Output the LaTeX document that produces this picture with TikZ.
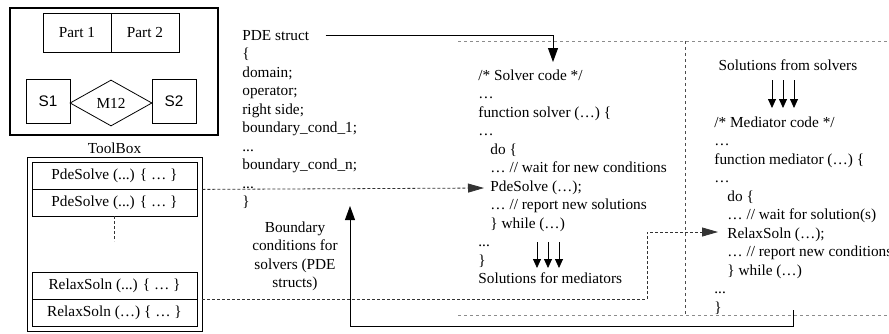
\documentclass[tikz,border=0pt]{standalone}
\usepackage{fontspec}
\setmainfont{Liberation Serif}
\setsansfont{Liberation Sans}
\usetikzlibrary{shapes.geometric, arrows.meta}

\tikzset{
    txt/.style={font=\fontsize{15.3}{18.5}\selectfont, inner sep=0pt},
    sans/.style={font=\fontsize{15.3}{18.5}\selectfont\sffamily, inner sep=0pt},
    code/.style={txt, align=left, anchor=base west},
    cell/.style={draw, txt, minimum width=165pt, minimum height=27pt},
    flow/.style={-{Triangle[length=14pt,width=10pt]}},
    link/.style={densely dashed, black!80, -{Triangle[length=16pt,width=9pt]}},
    zone/.style={dashed, black!45, line width=0.6pt},
    tri/.style={-{Triangle[length=9pt,width=8pt]}}
}

\begin{document}
\begin{tikzpicture}[x=1pt, y=-1pt, line width=0.8pt]
    \useasboundingbox (0,0) rectangle (889,333);

    % parts and subdomains
    \node[draw, line width=2pt, minimum width=208pt, minimum height=127pt] (frame) at (114,71.5) {};
    \node[draw, txt, minimum width=68pt, minimum height=39pt] (part1) at (77,32.5) {Part 1};
    \node[draw, txt, minimum width=68pt, minimum height=39pt] (part2) at (145,32.5) {Part 2};
    \node[draw, sans, minimum size=44pt] (s1) at (48,101) {S1};
    \node[draw, sans, minimum size=44pt] (s2) at (174,101) {S2};
    \node[draw, diamond, txt, minimum width=82pt, minimum height=46pt] (m12) at (111,103) {M12};

    % toolbox
    \node[txt] (tblabel) at (114.5,148) {ToolBox};
    \node[draw, minimum width=175pt, minimum height=174pt] (tbox) at (114.5,244.5) {};
    \node[cell] (pde1) at (114.5,175.5) {PdeSolve (...) \{ … \}};
    \node[cell] (pde2) at (114.5,202.5) {PdeSolve (...) \{ … \}};
    \node[cell] (relax1) at (114.5,285.5) {RelaxSoln (...) \{ … \}};
    \node[cell] (relax2) at (114.5,312.5) {RelaxSoln (…) \{ … \}};
    \draw[densely dashed, black!80] (pde2.south) -- ++(0,25);

    % PDE struct (multi-line nodes sit on their last baseline)
    \node[code] (structhead) at (242,40) {PDE struct};
    \node[code] (structbody) at (242,206.5) {\{\\domain;\\operator;\\right side;\\boundary\_cond\_1;\\...\\boundary\_cond\_n;\\...\\\}};
    \node[txt, align=center, anchor=base] (bclabel) at (295,287.5) {Boundary\\conditions for\\solvers (PDE\\structs)};

    % solver and mediator code
    \draw[zone] (458,41) -- (889,41);
    \draw[zone] (458,315) -- (889,315);
    \draw[zone, black!70] (685,41) -- (685,315);

    \node[code] (solver) at (478,283.5) {/* Solver code */\\…\\function solver (…) \{\\…\\\hspace*{12pt}do \{\\\hspace*{12pt}… // wait for new conditions\\\hspace*{12pt}PdeSolve (…);\\\hspace*{12pt}… // report new solutions\\\hspace*{12pt}\} while (…)\\...\\\}\\Solutions for mediators};
    \node[txt, anchor=base] (fromsolvers) at (788,70) {Solutions from solvers};
    \node[code] (mediator) at (714,312) {/* Mediator code */\\…\\function mediator (…) \{\\…\\\hspace*{13pt}do \{\\\hspace*{13pt}… // wait for solution(s)\\\hspace*{13pt}RelaxSoln (…);\\\hspace*{13pt}… // report new conditions\\\hspace*{13pt}\} while (…)\\...\\\}};

    \coordinate (solverin) at (553,62);
    \coordinate (pdecall) at (484,188);
    \coordinate (relaxbend) at (647,232);
    \coordinate (relaxcall) at (718,232);
    \coordinate (medout) at (793,310);
    \coordinate (retcorner) at (350,326);
    \coordinate (bcin) at (350,206);

    % connectors
    \draw[flow] ([xshift=16pt]structhead.east) -| (solverin);
    \draw[link] (tbox.east |- pde1.south) -- (pdecall);
    \draw[link] (tbox.east |- relax1.south) -| (relaxbend) -- (relaxcall);
    \draw[flow] (medout) |- (retcorner) -- (bcin);

    \foreach \dx in {0,11,22} {
        \draw[tri] (537+\dx,242) -- (537+\dx,268);
        \draw[tri] (772+\dx,80) -- (772+\dx,108);
    }
\end{tikzpicture}
\end{document}
